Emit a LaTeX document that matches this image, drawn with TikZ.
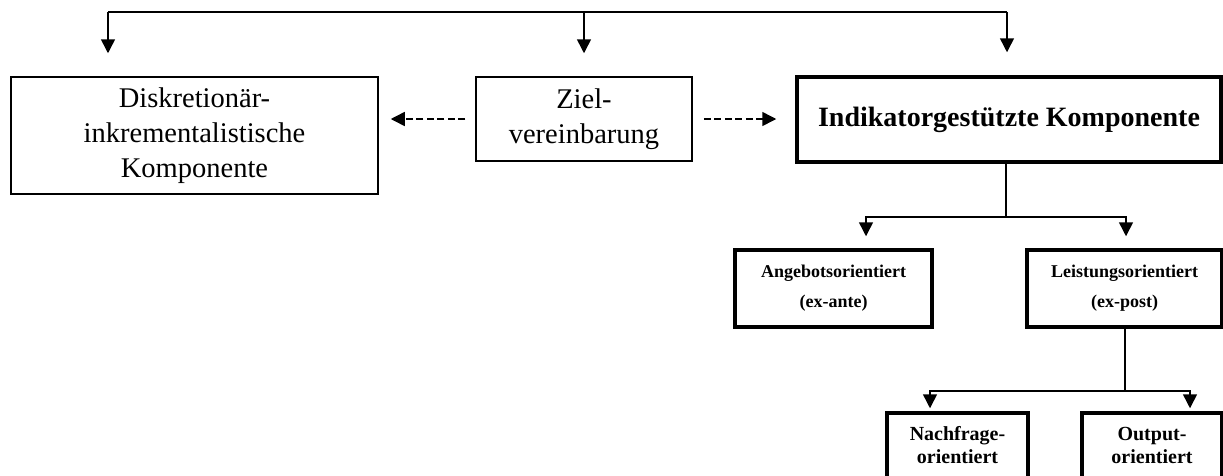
\documentclass[tikz,border=0pt]{standalone}
\usepackage{fontspec}
\setmainfont{Liberation Serif}
\usetikzlibrary{arrows.meta}
\begin{document}
\begin{tikzpicture}[x=1pt,y=-1pt,
  box/.style={draw, line width=1.5pt, align=center, inner sep=0pt, font=\fontsize{28.5}{35}\selectfont},
  tbox/.style={draw, line width=3.5pt, align=center, inner sep=0pt},
  ln/.style={line width=1.5pt},
  arr/.style={line width=1.5pt, -{Triangle[width=14pt,length=14pt]}},
  darr/.style={line width=1.5pt, dash pattern=on 7pt off 3.5pt, -{Triangle[width=14pt,length=14pt]}}]
\useasboundingbox (0,0) rectangle (1223,475);
\clip (0,0) rectangle (1223,475);

\node[box, minimum width=367pt, minimum height=117pt] (left) at (194.5,135.5) {Diskretionär-\\inkrementalistische\\Komponente};
\node[box, minimum width=216pt, minimum height=84pt] (ziel) at (584,119) {Ziel-\\vereinbarung};
\node[tbox, font=\bfseries\fontsize{28}{34}\selectfont, minimum width=424pt, minimum height=85pt] (ind) at (1009,119.5) {Indikatorgestützte Komponente};
\node[tbox, font=\bfseries\fontsize{18}{30}\selectfont, minimum width=197pt, minimum height=77pt] (ang) at (833.5,288.5) {Angebotsorientiert\\(ex-ante)};
\node[tbox, font=\bfseries\fontsize{18}{30}\selectfont, minimum width=195pt, minimum height=77pt] (lei) at (1124.5,288.5) {Leistungsorientiert\\(ex-post)};
\node[tbox, font=\bfseries\fontsize{20}{23}\selectfont, minimum width=141pt, minimum height=65pt] (nach) at (957.5,445.5) {Nachfrage-\\orientiert};
\node[tbox, font=\bfseries\fontsize{20}{23}\selectfont, minimum width=140pt, minimum height=65pt] (out) at (1152,445.5) {Output-\\orientiert};

\coordinate (tl) at (108,12);
\coordinate (tr) at (1007,12);
\draw[ln] (tl) -- (tr);
\draw[arr, shorten >=23pt] (tl) -- (tl |- ziel.north);
\draw[arr, shorten >=23pt] (ziel.north |- tl) -- (ziel.north);
\draw[arr, shorten >=23pt] (tr) -- (tr |- ind.north);

\draw[darr, shorten <=10pt, shorten >=12pt] (ziel.west) -- (ziel.west -| left.east);
\draw[darr, shorten <=11pt, shorten >=19pt] (ziel.east) -- (ziel.east -| ind.west);

\coordinate (j1) at (1006,217);
\coordinate (a1) at (866,217);
\coordinate (a2) at (1126,217);
\draw[ln] (ind.south -| j1) -- (j1);
\draw[arr, shorten >=12pt] (j1) -| (a1 |- ang.north);
\draw[arr, shorten >=12pt] (j1) -| (a2 |- lei.north);

\coordinate (j2) at (1125,391);
\coordinate (c1) at (930,391);
\coordinate (c2) at (1190,391);
\draw[ln] (lei.south -| j2) -- (j2);
\draw[arr, shorten >=3pt] (j2) -| (c1 |- nach.north);
\draw[arr, shorten >=3pt] (j2) -| (c2 |- out.north);
\end{tikzpicture}
\end{document}
